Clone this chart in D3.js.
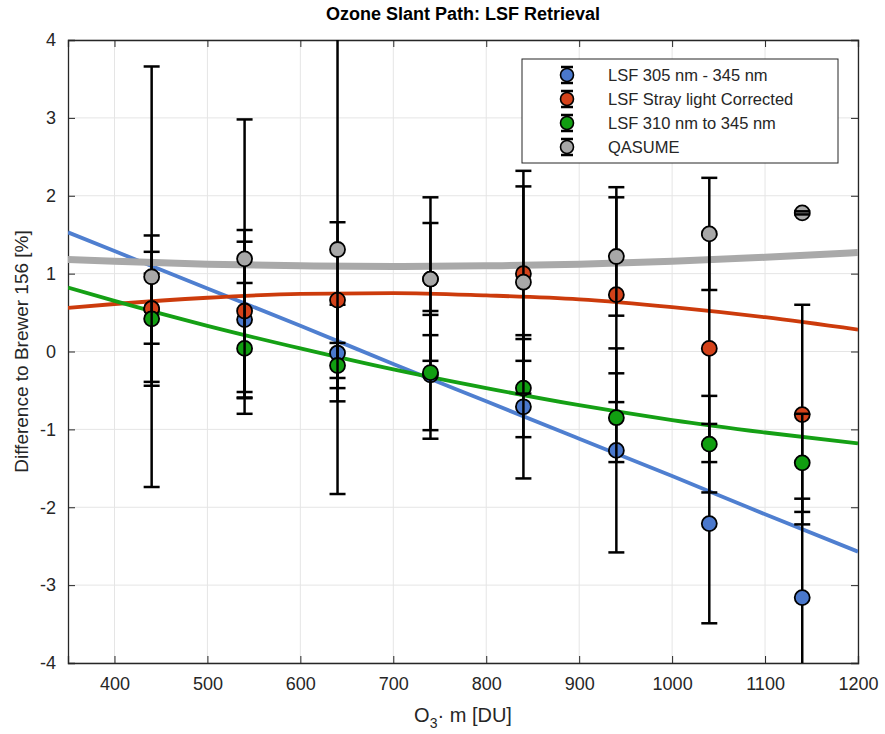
<!DOCTYPE html>
<html>
<head>
<meta charset="UTF-8">
<script src="https://cdnjs.cloudflare.com/ajax/libs/d3/7.8.5/d3.min.js"></script>
<style>
  body { margin: 0; background: #fff; font-family: 'Liberation Sans', Arial, sans-serif; }
  svg text { fill: #262626; }
</style>
</head>
<body>
<svg id="chart" width="885" height="734"></svg>
<script>
// measured columns
const xs = [440, 540, 640, 740, 840, 940, 1040, 1140]

const blueVals = [0.55, 0.41, -0.02, -0.30, -0.71, -1.27, -2.21, -3.16]
const blueErr = [0.45, 1.00, 0.62, 0.82, 0.92, 1.31, 1.28, 1.27]
const redVals = [0.55, 0.52, 0.66, 0.93, 1.00, 0.73, 0.04, -0.81]
const redErr = [0.94, 1.04, 1.00, 0.72, 1.12, 1.38, 1.46, 1.41]
const greenVals = [0.42, 0.04, -0.18, -0.27, -0.47, -0.85, -1.19, -1.43]
const greenErr = [0.86, 0.84, 0.29, 0.74, 0.63, 0.57, 0.62, 0.63]
const grayVals = [0.96, 1.19, 1.31, 0.93, 0.89, 1.22, 1.51, 1.78]
const grayErr = [2.70, 1.79, 3.14, 1.05, 1.43, 0.76, 0.72, 0.02]

const fitX = [350, 400, 500, 600, 700, 800, 900, 1000, 1100, 1200]
const blueFit = [1.53, 1.29, 0.81, 0.33, -0.16, -0.64, -1.12, -1.60, -2.09, -2.57]
const redFit = [0.56, 0.61, 0.69, 0.74, 0.75, 0.72, 0.67, 0.57, 0.44, 0.28]
const greenFit = [0.82, 0.65, 0.33, 0.04, -0.23, -0.47, -0.69, -0.88, -1.04, -1.18]
const grayFit = [1.18, 1.16, 1.12, 1.10, 1.09, 1.10, 1.12, 1.16, 1.21, 1.27]

const xTicks = [400, 500, 600, 700, 800, 900, 1000, 1100, 1200]
const yTicks = [-4, -3, -2, -1, 0, 1, 2, 3, 4]

const series = [
  { name: 'LSF 305 nm - 345 nm', vals: blueVals, err: blueErr, fit: blueFit, fill: '#4a78cc', line: '#4f7fd0', lw: 3.8 },
  { name: 'LSF Stray light Corrected', vals: redVals, err: redErr, fit: redFit, fill: '#d4421a', line: '#cc3b0c', lw: 3.8 },
  { name: 'LSF 310 nm to 345 nm', vals: greenVals, err: greenErr, fit: greenFit, fill: '#119e11', line: '#15a015', lw: 3.8 },
  { name: 'QASUME', vals: grayVals, err: grayErr, fit: grayFit, fill: '#a8a8a8', line: '#a9a9a9', lw: 7 }
]

const margin = { left: 68, right: 27, top: 40, bottom: 71 }
const width = 885, height = 734
const svg = d3.select('#chart')

const x = d3.scaleLinear().domain([350, 1200]).range([margin.left, width - margin.right])
const y = d3.scaleLinear().domain([-4, 4]).range([height - margin.bottom, margin.top])

svg.append('defs').append('clipPath').attr('id', 'clip')
  .append('rect')
  .attr('x', x(350)).attr('y', y(4))
  .attr('width', x(1200) - x(350)).attr('height', y(-4) - y(4))

// grid
const grid = svg.append('g')
grid.selectAll('.gx').data(xTicks).enter().append('line')
  .attr('x1', d => x(d)).attr('x2', d => x(d))
  .attr('y1', y(4)).attr('y2', y(-4))
  .attr('stroke', '#e5e5e5').attr('stroke-width', 1)
grid.selectAll('.gy').data(yTicks).enter().append('line')
  .attr('x1', x(350)).attr('x2', x(1200))
  .attr('y1', d => y(d)).attr('y2', d => y(d))
  .attr('stroke', '#e5e5e5').attr('stroke-width', 1)

// axes (ticks inside, box all round)
const tickLen = 7
const fmt = d => String(d)
svg.append('g')
  .attr('transform', `translate(0,${y(-4)})`)
  .call(d3.axisBottom(x).tickValues(xTicks).tickSize(-tickLen).tickPadding(14).tickFormat(fmt))
svg.append('g')
  .attr('transform', `translate(0,${y(4)})`)
  .call(d3.axisTop(x).tickValues(xTicks).tickSize(-tickLen).tickFormat(''))
svg.append('g')
  .attr('transform', `translate(${x(350)},0)`)
  .call(d3.axisLeft(y).tickValues(yTicks).tickSize(-tickLen).tickPadding(12).tickFormat(fmt))
svg.append('g')
  .attr('transform', `translate(${x(1200)},0)`)
  .call(d3.axisRight(y).tickValues(yTicks).tickSize(-tickLen).tickFormat(''))

svg.selectAll('.domain').attr('stroke', '#262626').attr('stroke-width', 1.3)
svg.selectAll('.tick line').attr('stroke', '#262626').attr('stroke-width', 1)
svg.selectAll('.tick text')
  .attr('font-size', 18)
  .attr('font-family', "'Liberation Sans', Arial, sans-serif")
  .style('fill', '#262626')

// fitted curves
const plot = svg.append('g').attr('clip-path', 'url(#clip)')
const lineGen = d3.line().x((d, i) => x(fitX[i])).y(d => y(d)).curve(d3.curveMonotoneX)
series.forEach(s => {
  plot.append('path')
    .datum(s.fit)
    .attr('d', lineGen)
    .attr('fill', 'none')
    .attr('stroke', s.line)
    .attr('stroke-width', s.lw)
})

// error bars + markers
const capW = 8
series.forEach(s => {
  const g = plot.append('g')
  const pts = xs.map((xv, i) => ({ x: xv, v: s.vals[i], e: s.err[i] }))
  g.selectAll('.bar').data(pts).enter().append('line')
    .attr('x1', d => x(d.x)).attr('x2', d => x(d.x))
    .attr('y1', d => y(d.v + d.e)).attr('y2', d => y(d.v - d.e))
    .attr('stroke', '#000').attr('stroke-width', 2.5)
  g.selectAll('.pt').data(pts).enter().append('circle')
    .attr('cx', d => x(d.x)).attr('cy', d => y(d.v))
    .attr('r', 7.5)
    .attr('fill', s.fill).attr('stroke', '#000').attr('stroke-width', 1.8)
  ;[1, -1].forEach(sign => {
    g.selectAll('.cap').data(pts).enter().append('line')
      .attr('x1', d => x(d.x) - capW).attr('x2', d => x(d.x) + capW)
      .attr('y1', d => y(d.v + sign * d.e)).attr('y2', d => y(d.v + sign * d.e))
      .attr('stroke', '#000').attr('stroke-width', 2.5)
  })
})

// legend
const lg = svg.append('g').attr('transform', 'translate(522,59)')
lg.append('rect').attr('width', 316).attr('height', 104)
  .attr('fill', '#fff').attr('stroke', '#262626').attr('stroke-width', 1)
series.forEach((s, i) => {
  const cy = 16 + i * 24
  const cx = 45
  lg.append('line').attr('x1', cx).attr('x2', cx).attr('y1', cy - 8).attr('y2', cy + 8)
    .attr('stroke', '#000').attr('stroke-width', 2.5)
  ;[-8, 8].forEach(dy => {
    lg.append('line').attr('x1', cx - 6).attr('x2', cx + 6).attr('y1', cy + dy).attr('y2', cy + dy)
      .attr('stroke', '#000').attr('stroke-width', 2.5)
  })
  lg.append('circle').attr('cx', cx).attr('cy', cy).attr('r', 6.5)
    .attr('fill', s.fill).attr('stroke', '#000').attr('stroke-width', 1.6)
  lg.append('text').attr('x', 86).attr('y', cy + 6)
    .attr('font-size', 16.5).text(s.name)
})

// title and labels
svg.append('text')
  .attr('x', x(775)).attr('y', 20)
  .attr('text-anchor', 'middle')
  .attr('font-size', 18).attr('font-weight', 'bold')
  .style('fill', '#000')
  .text('Ozone Slant Path: LSF Retrieval')

const xl = svg.append('text')
  .attr('x', x(775)).attr('y', 722)
  .attr('text-anchor', 'middle')
  .attr('font-size', 20)
xl.append('tspan').text('O')
xl.append('tspan').attr('dy', 6).attr('font-size', 14).text('3')
xl.append('tspan').attr('dy', -6).text('· m [DU]')

svg.append('text')
  .attr('transform', `translate(28,${y(0)}) rotate(-90)`)
  .attr('text-anchor', 'middle')
  .attr('font-size', 19)
  .text('Difference to Brewer 156 [%]')
</script>
</body>
</html>
